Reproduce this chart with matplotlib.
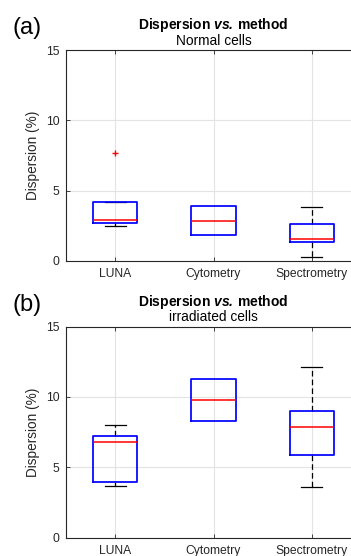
import matplotlib
matplotlib.use("Agg")
import matplotlib.pyplot as plt

plt.rcParams['font.family'] = ['Liberation Sans', 'DejaVu Sans']
plt.rcParams['mathtext.fontset'] = 'custom'
plt.rcParams['mathtext.bfit'] = 'Liberation Sans:italic:bold'
plt.rcParams['mathtext.it'] = 'Liberation Sans:italic'
plt.rcParams['mathtext.rm'] = 'Liberation Sans'
plt.rcParams['mathtext.bf'] = 'Liberation Sans:bold'

methods = ["LUNA", "Cytometry", "Spectrometry"]
yticks = [0, 5, 10, 15]

# (a) normal cells: box statistics per method
normal_q1 = [2.71, 1.80, 1.33]
normal_med = [2.87, 2.85, 1.54]
normal_q3 = [4.20, 3.89, 2.59]
normal_wlo = [2.49, 1.80, 0.24]
normal_whi = [4.17, 3.89, 3.82]
normal_fliers = [[7.69], [], []]

# (b) irradiated cells
irr_q1 = [3.98, 8.27, 5.90]
irr_med = [6.82, 9.79, 7.89]
irr_q3 = [7.25, 11.30, 9.00]
irr_wlo = [3.70, 8.27, 3.60]
irr_whi = [8.03, 11.30, 12.11]
irr_fliers = [[], [], []]

TXT = '#262626'


def make_stats(q1, med, q3, wlo, whi, fliers):
    return [dict(label=m, q1=a, med=b, q3=c, whislo=d, whishi=e, fliers=f)
            for m, a, b, c, d, e, f in zip(methods, q1, med, q3, wlo, whi, fliers)]


def draw_panel(ax, stats, subtitle, letter):
    parts = ax.bxp(stats, positions=[1, 2, 3], widths=0.45, capwidths=0.22,
                   showfliers=True,
                   boxprops=dict(color='#0000ff', linewidth=1.25),
                   medianprops=dict(color='#ff0000', linewidth=1.1),
                   whiskerprops=dict(color='black', linewidth=0.9, linestyle=(0, (4.5, 2.5))),
                   capprops=dict(color='black', linewidth=0.9),
                   flierprops=dict(marker='+', markeredgecolor='#ff0000',
                                   markerfacecolor='none', markersize=5, markeredgewidth=1.0,
                                   linestyle='none'))
    # a whisker that ends exactly on the box edge is hidden behind the box
    for i, s in enumerate(stats):
        if s['whislo'] == s['q1']:
            parts['caps'][2 * i].set_visible(False)
            parts['whiskers'][2 * i].set_visible(False)
        if s['whishi'] == s['q3']:
            parts['caps'][2 * i + 1].set_visible(False)
            parts['whiskers'][2 * i + 1].set_visible(False)
    for ln in parts['whiskers'] + parts['caps']:
        ln.set_zorder(2)
    for ln in parts['boxes']:
        ln.set_zorder(3)
    for ln in parts['medians']:
        ln.set_zorder(4)
    ax.set_xlim(0.5, 3.5)
    ax.set_ylim(0, 15)
    ax.set_yticks(yticks)
    ax.set_xticks([1, 2, 3])
    ax.set_xticklabels(methods)
    ax.grid(True, color='#e3e3e3', linewidth=0.8)
    ax.set_axisbelow(True)
    ax.tick_params(direction='in', length=3, width=0.6, colors=TXT,
                   labelsize=8.7, top=True, right=True, pad=5)
    for sp in ax.spines.values():
        sp.set_color(TXT)
        sp.set_linewidth(0.8)
    ax.set_ylabel('Dispersion (%)', fontsize=9.8, color=TXT, labelpad=4)
    ax.text(0.5, 1.118, r'Dispersion $\mathbfit{vs.}\,$method', transform=ax.transAxes,
            ha='center', va='center', fontsize=10, fontweight='bold', color='black')
    ax.text(0.5, 1.045, subtitle, transform=ax.transAxes,
            ha='center', va='center', fontsize=9.9, color='black')
    ax.text(-0.133, 1.104, letter, transform=ax.transAxes,
            ha='center', va='center', fontsize=17, color='black')


fig = plt.figure(figsize=(3.51, 5.56), dpi=100)
ax1 = fig.add_axes([0.189, 0.531, 0.8386, 0.379])
ax2 = fig.add_axes([0.189, 0.033, 0.8386, 0.3795])

draw_panel(ax1, make_stats(normal_q1, normal_med, normal_q3, normal_wlo, normal_whi, normal_fliers),
           'Normal cells', '(a)')
draw_panel(ax2, make_stats(irr_q1, irr_med, irr_q3, irr_wlo, irr_whi, irr_fliers),
           'irradiated cells', '(b)')

fig.savefig('out.png', dpi=100)
